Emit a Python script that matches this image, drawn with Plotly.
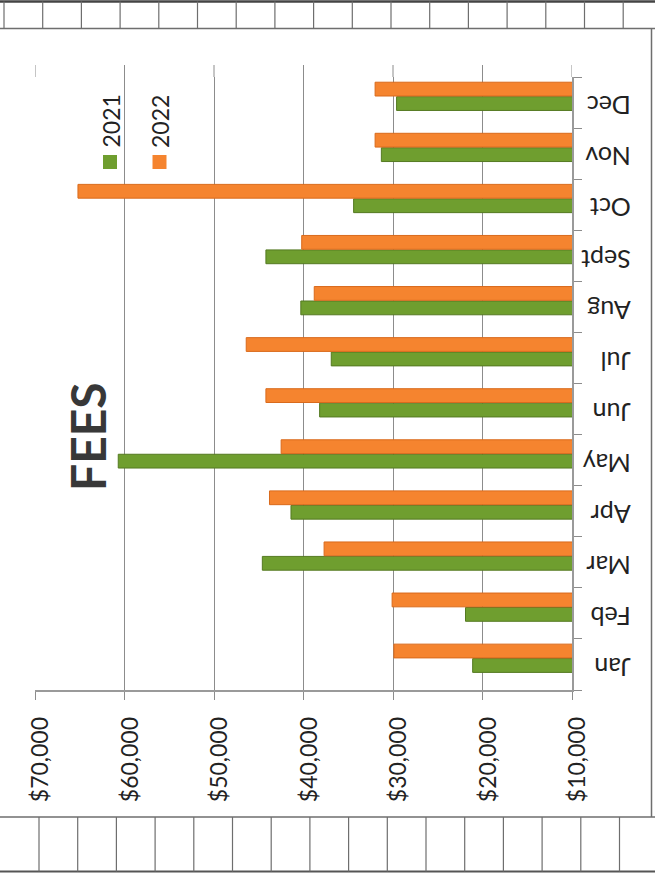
import plotly.graph_objects as go

# ---- data ----
months = ["Jan", "Feb", "Mar", "Apr", "May", "Jun", "Jul", "Aug", "Sept", "Oct", "Nov", "Dec"]
fees_2021 = [21100, 21900, 44600, 41400, 60700, 38200, 36900, 40300, 44200, 34400, 31300, 29600]
fees_2022 = [29900, 30100, 37700, 43800, 42500, 44200, 46400, 38800, 40200, 65200, 32000, 32000]
value_ticks = [10000, 20000, 30000, 40000, 50000, 60000, 70000]
value_labels = ["$10,000", "$20,000", "$30,000", "$40,000", "$50,000", "$60,000", "$70,000"]
series_names = ["2021", "2022"]
series_colors = ["#6f9e2f", "#f5842f"]
edge_colors = ["#557a22", "#d96a1c"]
bar_offsets = [-0.155, 0.128]
bar_width = 0.27

W, H = 655, 873
L, R, T, B = 35, 83, 77, 183
PW, PH = W - L - R, H - T - B


def X(px):
    return (px - L) / PW


def Y(py):
    return (H - B - py) / PH


fig = go.Figure()
for name, vals, col, ecol, off in zip(series_names, [fees_2021, fees_2022], series_colors,
                                      edge_colors, bar_offsets):
    fig.add_trace(go.Bar(
        y=months, x=vals, orientation="h", name=name,
        width=bar_width, offset=off,
        marker=dict(color=col, line=dict(color=ecol, width=1)),
        showlegend=False,
    ))

font_family = "Lato, 'Open Sans', sans-serif"
txt = "#222222"

fig.update_layout(
    width=W, height=H,
    margin=dict(l=L, r=R, t=T, b=B, pad=0),
    paper_bgcolor="white", plot_bgcolor="white",
    barmode="overlay",
    font=dict(family=font_family, size=22, color=txt),
    xaxis=dict(
        range=[70000, 10000], tickmode="array", tickvals=value_ticks, ticktext=value_labels,
        tickangle=-90,
        showgrid=True, gridcolor="#8c8c8c", gridwidth=1,
        zeroline=False, showline=True, linecolor="#9a9a9a", linewidth=1.5,
        ticks="outside", ticklen=8, tickcolor="#8c8c8c",
        ticklabelstandoff=8, ticklabelshift=-6,
        tickfont=dict(family=font_family, size=23, color=txt),
    ),
    yaxis=dict(
        type="category", categoryorder="array", categoryarray=months,
        side="right", tickangle=180, showgrid=False,
        showline=True, linecolor="#9a9a9a", linewidth=1.5,
        ticks="outside", ticklen=8, tickcolor="#8c8c8c", tickson="boundaries",
        ticklabelstandoff=52, ticklabelshift=10,
        tickfont=dict(family=font_family, size=25, color=txt),
    ),
)

# gridline tops continuing to the chart's back wall
for v in value_ticks:
    fig.add_shape(type="line", xref="x", yref="paper", x0=v, x1=v, y0=1, y1=Y(65),
                  line=dict(color="#8c8c8c", width=1))

# title
fig.add_annotation(
    text="<b>FEES</b>", xref="paper", yref="paper", x=X(87), y=Y(437),
    showarrow=False, textangle=-90, xanchor="center", yanchor="middle",
    font=dict(family=font_family, size=48, color="#383838"),
)

# legend (rotated, as in the scan)
leg_x = [110, 159.5]
for name, col, lx in zip(series_names, series_colors, leg_x):
    fig.add_annotation(
        text=name, xref="paper", yref="paper", x=X(lx), y=Y(121.5),
        showarrow=False, textangle=-90, xanchor="center", yanchor="middle",
        font=dict(family=font_family, size=23, color=txt),
    )
    fig.add_shape(type="rect", xref="paper", yref="paper",
                  x0=X(lx - 7), x1=X(lx + 7), y0=Y(169), y1=Y(155),
                  fillcolor=col, line=dict(width=0))

# scanned page frame / table rows
line_col = "#6e6e6e"
frame = []
frame.append(dict(x0=0, x1=W, y0=1.5, y1=1.5, w=2.5, c="#444444"))
frame.append(dict(x0=0, x1=W, y0=28.5, y1=28.5, w=1.5, c=line_col))
frame.append(dict(x0=651.5, x1=651.5, y0=28.5, y1=817, w=1.5, c=line_col))
frame.append(dict(x0=0, x1=W, y0=817, y1=817, w=1.5, c=line_col))
frame.append(dict(x0=0, x1=W, y0=871.5, y1=871.5, w=2, c="#555555"))
for i in range(17):
    xv = 4 + i * 38.7
    frame.append(dict(x0=xv, x1=xv, y0=1.5, y1=28.5, w=1.2, c=line_col))
for i in range(16):
    xv = 39 + i * 38.7
    frame.append(dict(x0=xv, x1=xv, y0=817, y1=871.5, w=1.2, c=line_col))
for f in frame:
    fig.add_shape(type="line", xref="paper", yref="paper",
                  x0=X(f["x0"]), x1=X(f["x1"]), y0=Y(f["y0"]), y1=Y(f["y1"]),
                  line=dict(color=f["c"], width=f["w"]))

fig.write_html("out.html", config={"displayModeBar": False},
               post_script="document.body.style.margin='0';")
